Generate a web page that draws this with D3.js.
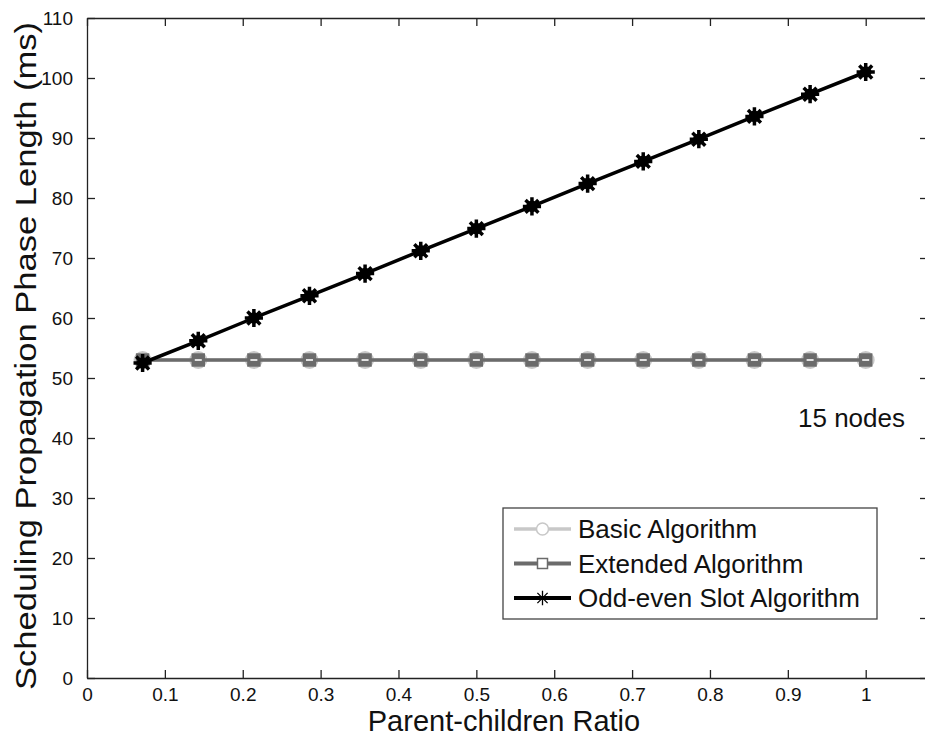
<!DOCTYPE html>
<html>
<head>
<meta charset="utf-8">
<script src="https://cdn.jsdelivr.net/npm/d3@7"></script>
<style>
  body { margin: 0; background: #fff; }
  svg { display: block; font-family: "Liberation Sans", Arial, sans-serif; }
</style>
</head>
<body>
<div id="chart"></div>
<script>
// x = parent-children ratio (k/14 for 15 nodes)
var ratios = [0.0714, 0.1429, 0.2143, 0.2857, 0.3571, 0.4286, 0.5, 0.5714, 0.6429, 0.7143, 0.7857, 0.8571, 0.9286, 1.0];
var basicValues = [53, 53, 53, 53, 53, 53, 53, 53, 53, 53, 53, 53, 53, 53];
var extendedValues = [53, 53, 53, 53, 53, 53, 53, 53, 53, 53, 53, 53, 53, 53];
var oddEvenValues = [52.5, 56.2, 60.0, 63.7, 67.4, 71.2, 74.9, 78.6, 82.4, 86.1, 89.8, 93.6, 97.3, 101.0];
var seriesNames = ["Basic Algorithm", "Extended Algorithm", "Odd-even Slot Algorithm"];
var xTicks = [0, 0.1, 0.2, 0.3, 0.4, 0.5, 0.6, 0.7, 0.8, 0.9, 1];
var yTicks = [0, 10, 20, 30, 40, 50, 60, 70, 80, 90, 100, 110];

(function() {
var width = 925, height = 738;
var mLeft = 87, mRight = 928, mTop = 18, mBottom = 678;
var tickLen = 8;

var svg = d3.select("#chart").append("svg")
    .attr("width", width)
    .attr("height", height);

var x = d3.scaleLinear().domain([0, 1.08]).range([mLeft, mRight]);
var y = d3.scaleLinear().domain([0, 110]).range([mBottom, mTop]);

// axes box (MATLAB style, box on)
var axisColor = "#222";
var xAxis = d3.axisBottom(x).tickValues(xTicks).tickSizeInner(-tickLen).tickSizeOuter(0)
    .tickPadding(tickLen + 5).tickFormat(d3.format("~g"));
var yAxis = d3.axisLeft(y).tickValues(yTicks).tickSizeInner(-tickLen).tickSizeOuter(0)
    .tickPadding(tickLen + 6).tickFormat(d3.format("d"));

var gx = svg.append("g").attr("transform", "translate(0," + mBottom + ")").call(xAxis);
var gy = svg.append("g").attr("transform", "translate(" + mLeft + ",0)").call(yAxis);
// top and right ticks without labels
var gxt = svg.append("g").attr("transform", "translate(0," + mTop + ")")
    .call(d3.axisTop(x).tickValues(xTicks).tickSizeInner(-tickLen).tickSizeOuter(0).tickFormat(""));
var gyr = svg.append("g").attr("transform", "translate(" + mRight + ",0)")
    .call(d3.axisRight(y).tickValues(yTicks).tickSizeInner(-tickLen).tickSizeOuter(0).tickFormat(""));

[gx, gy, gxt, gyr].forEach(function(g) {
    g.attr("font-size", null).attr("font-family", null);
    g.select(".domain").attr("stroke", axisColor).attr("stroke-width", 1.3);
    g.selectAll(".tick line").attr("stroke", axisColor).attr("stroke-width", 1.3);
    g.selectAll(".tick text").attr("fill", "#111").style("font-size", "19px");
});
gx.selectAll(".tick text").attr("dy", "0.5em");

// axis labels
svg.append("text")
    .attr("x", 504)
    .attr("y", 731)
    .attr("text-anchor", "middle")
    .style("font-size", "29px")
    .attr("fill", "#111")
    .text("Parent-children Ratio");

svg.append("text")
    .attr("transform", "translate(36,356) rotate(-90)")
    .attr("text-anchor", "middle")
    .attr("textLength", 668)
    .attr("lengthAdjust", "spacingAndGlyphs")
    .style("font-size", "30px")
    .attr("fill", "#111")
    .text("Scheduling Propagation Phase Length (ms)");

// series
var series = [
    { name: seriesNames[0], values: basicValues, color: "#c8c8c8", width: 3, marker: "circle" },
    { name: seriesNames[1], values: extendedValues, color: "#6b6b6b", width: 3.5, marker: "square" },
    { name: seriesNames[2], values: oddEvenValues, color: "#000", width: 3.5, marker: "star" }
];

var line = d3.line()
    .x(function(d) { return x(d.x); })
    .y(function(d) { return y(d.y); });

var plot = svg.append("g");

var plusSym = d3.symbolPlus || d3.symbolCross;
var timesSym = d3.symbolTimes || d3.symbolX;

function drawMarker(g, type, color, big) {
    if (type === "circle") {
        g.append("circle").attr("r", big ? 7.5 : 6)
            .attr("fill", big ? color : "#fff").attr("stroke", color).attr("stroke-width", big ? 3 : 1.5);
    } else if (type === "square") {
        if (big) {
            g.append("path").attr("d", d3.symbol(d3.symbolSquare, 180)())
                .attr("fill", color);
            g.append("line").attr("x1", -3.5).attr("x2", 3.5).attr("y1", 0).attr("y2", 0)
                .attr("stroke", "#fff").attr("stroke-width", 1.6);
        } else {
            g.append("path").attr("d", d3.symbol(d3.symbolSquare, 100)())
                .attr("fill", "#fff").attr("stroke", color).attr("stroke-width", 1.5);
        }
    } else {
        var sz = big ? 110 : 70;
        g.append("path").attr("d", d3.symbol(plusSym, sz)())
            .attr("fill", "none").attr("stroke", color).attr("stroke-width", big ? 3.5 : 1.3);
        g.append("path").attr("d", d3.symbol(timesSym, sz)())
            .attr("fill", "none").attr("stroke", color).attr("stroke-width", big ? 3.5 : 1.3);
        if (big) {
            g.append("circle").attr("r", 5.8).attr("fill", color);
        }
    }
}

series.forEach(function(s) {
    var pts = ratios.map(function(r, i) { return { x: r, y: s.values[i] }; });
    plot.append("path")
        .datum(pts)
        .attr("fill", "none")
        .attr("stroke", s.color)
        .attr("stroke-width", s.width)
        .attr("d", line);
    plot.selectAll(null)
        .data(pts)
        .enter().append("g")
        .attr("transform", function(d) { return "translate(" + x(d.x) + "," + y(d.y) + ")"; })
        .each(function() { drawMarker(d3.select(this), s.marker, s.color, true); });
});

// annotation
svg.append("text")
    .attr("x", 798)
    .attr("y", 427)
    .style("font-size", "26px")
    .attr("fill", "#111")
    .text("15 nodes");

// legend
var legX = 503, legY = 508, legW = 374, legH = 111;
var legend = svg.append("g");
legend.append("rect")
    .attr("x", legX).attr("y", legY)
    .attr("width", legW).attr("height", legH)
    .attr("fill", "#fff")
    .attr("stroke", "#444")
    .attr("stroke-width", 1.3);

var rowY = d3.scalePoint().domain(seriesNames).range([legY + 21, legY + 90]);
series.forEach(function(s) {
    var ry = rowY(s.name);
    legend.append("line")
        .attr("x1", legX + 11).attr("x2", legX + 68)
        .attr("y1", ry).attr("y2", ry)
        .attr("stroke", s.color)
        .attr("stroke-width", s.marker === "circle" ? 3.5 : 4);
    var mg = legend.append("g").attr("transform", "translate(" + (legX + 39.5) + "," + ry + ")");
    drawMarker(mg, s.marker, s.marker === "star" ? "#000" : s.color, false);
    legend.append("text")
        .attr("x", legX + 75)
        .attr("y", ry)
        .attr("dy", "0.36em")
        .style("font-size", "26px")
        .attr("fill", "#111")
        .text(s.name);
});
})();
</script>
</body>
</html>
